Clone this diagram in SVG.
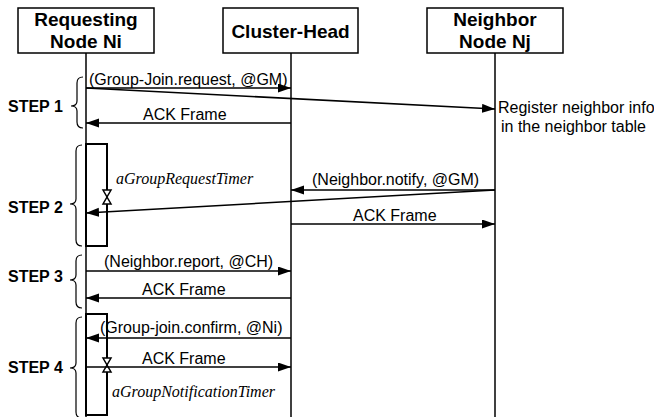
<svg xmlns="http://www.w3.org/2000/svg" width="654" height="417" viewBox="0 0 654 417">
<style>
.box{fill:#fff;stroke:#000;stroke-width:1.5}
.hdr{font-family:"Liberation Sans",Arial,sans-serif;font-weight:bold;font-size:19px;text-anchor:middle}
.life{stroke:#000;stroke-width:1.5;fill:none}
.msg{stroke:#000;stroke-width:1.5;fill:none;marker-end:url(#ah)}
.lbl{font-family:"Liberation Sans",Arial,sans-serif;font-size:16px}
.step{font-family:"Liberation Sans",Arial,sans-serif;font-weight:bold;font-size:16px}
.brace{fill:none;stroke:#000;stroke-width:1.2}
.act{fill:none;stroke:#000;stroke-width:2}
.tmr{font-family:"Liberation Serif","Times New Roman",serif;font-style:italic;font-size:16px}
.hg{fill:#fff;stroke:#000;stroke-width:1.5}
</style>
<defs>
<marker id="ah" markerUnits="userSpaceOnUse" markerWidth="14" markerHeight="10" refX="13" refY="4.5" orient="auto">
<path d="M0,0 L13,4.5 L0,9 z" fill="#000"/>
</marker>
</defs>
<rect width="654" height="417" fill="#fff"/>
<g id="requesting-node">
<rect class="box" x="18" y="8" width="136" height="45"/>
<text class="hdr" x="86" y="26">Requesting</text>
<text class="hdr" x="86" y="48">Node Ni</text>
</g>
<g id="cluster-head">
<rect class="box" x="223" y="8" width="135" height="45"/>
<text class="hdr" x="290.5" y="38">Cluster-Head</text>
</g>
<g id="neighbor-node">
<rect class="box" x="427" y="8" width="136" height="45"/>
<text class="hdr" x="495" y="26">Neighbor</text>
<text class="hdr" x="495" y="48">Node Nj</text>
</g>
<g id="lifelines">
<line class="life" x1="86" y1="53" x2="86" y2="417"/>
<line class="life" x1="291" y1="53" x2="291" y2="417"/>
<line class="life" x1="495" y1="53" x2="495" y2="417"/>
</g>
<g id="activations">
<rect class="act" x="86" y="144" width="21" height="102"/>
<rect class="act" x="86" y="314" width="21" height="101"/>
<path class="hg" d="M103,190 L111,190 L107,197 L111,204 L103,204 L107,197 Z"/>
<path class="hg" d="M103,358 L111,358 L107,365 L111,372 L103,372 L107,365 Z"/>
<text class="tmr" x="116" y="184">aGroupRequestTimer</text>
<text class="tmr" x="112" y="397">aGroupNotificationTimer</text>
</g>
<g id="steps">
<path class="brace" d="M83,77 Q77,77 77,83 L77,101 Q77,106 71,106 Q77,106 77,111 L77,122 Q77,128 83,128"/>
<text class="step" x="8" y="112">STEP 1</text>
<path class="brace" d="M82,145 Q76,145 76,151 L76,199 Q76,204 70,204 Q76,204 76,209 L76,240 Q76,246 82,246"/>
<text class="step" x="8" y="213">STEP 2</text>
<path class="brace" d="M82,255 Q76,255 76,261 L76,275 Q76,280 70,280 Q76,280 76,285 L76,302 Q76,308 82,308"/>
<text class="step" x="8" y="282">STEP 3</text>
<path class="brace" d="M82,317 Q76,317 76,323 L76,363 Q76,368 70,368 Q76,368 76,373 L76,412 Q76,418 82,418"/>
<text class="step" x="8" y="373">STEP 4</text>
</g>
<g id="connectors">
<line class="msg" x1="86" y1="88" x2="291" y2="88"/>
<line class="msg" x1="86" y1="88" x2="495" y2="109"/>
<line class="msg" x1="291" y1="123" x2="86" y2="123"/>
<line class="msg" x1="495" y1="190" x2="291" y2="190"/>
<line class="msg" x1="495" y1="190" x2="86" y2="213"/>
<line class="msg" x1="291" y1="224" x2="495" y2="224"/>
<line class="msg" x1="86" y1="271" x2="291" y2="271"/>
<line class="msg" x1="291" y1="298" x2="86" y2="298"/>
<line class="msg" x1="291" y1="338" x2="86" y2="338"/>
<line class="msg" x1="86" y1="367" x2="291" y2="367"/>
</g>
<g id="labels">
<text class="lbl" x="89" y="85">(Group-Join.request, @GM)</text>
<text class="lbl" x="143" y="120">ACK Frame</text>
<text class="lbl" x="498" y="113">Register neighbor info</text>
<text class="lbl" x="501" y="132">in the neighbor table</text>
<text class="lbl" x="312" y="185">(Neighbor.notify, @GM)</text>
<text class="lbl" x="353" y="221">ACK Frame</text>
<text class="lbl" x="104" y="267">(Neighbor.report, @CH)</text>
<text class="lbl" x="142" y="295">ACK Frame</text>
<text class="lbl" x="100" y="333">(Group-join.confirm, @Ni)</text>
<text class="lbl" x="142" y="364">ACK Frame</text>
</g>
</svg>
